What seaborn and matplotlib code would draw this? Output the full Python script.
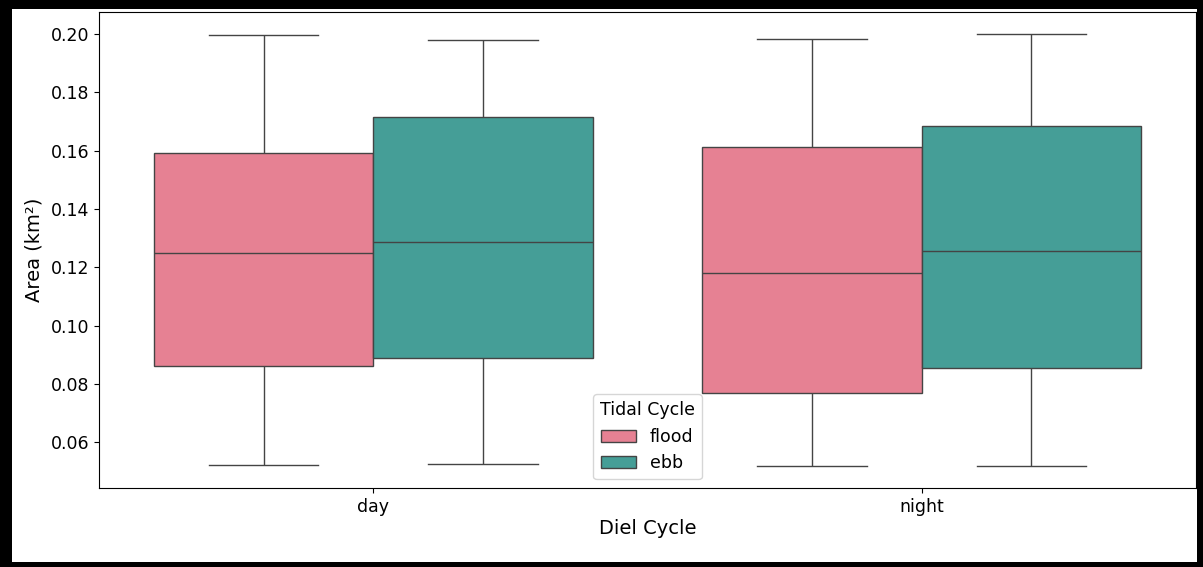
import numpy as np
import pandas as pd
import matplotlib
matplotlib.use("Agg")
import matplotlib.pyplot as plt
from matplotlib.patches import Rectangle
import seaborn as sns

# Five-number summaries (min, Q1, median, Q3, max) per group, area in km²
diel = ["day", "night"]
tidal = ["flood", "ebb"]
day_flood = [0.0522, 0.0862, 0.1250, 0.1591, 0.1997]
day_ebb = [0.0526, 0.0887, 0.1286, 0.1715, 0.1980]
night_flood = [0.0517, 0.0770, 0.1179, 0.1611, 0.1984]
night_ebb = [0.0517, 0.0853, 0.1256, 0.1685, 0.2001]

groups = {
    ("day", "flood"): day_flood,
    ("day", "ebb"): day_ebb,
    ("night", "flood"): night_flood,
    ("night", "ebb"): night_ebb,
}
rows = []
for (d, t), vals in groups.items():
    for v in vals:
        rows.append({"Diel Cycle": d, "Tidal Cycle": t, "Area": v})
df = pd.DataFrame(rows)

fig = plt.figure(figsize=(12.03, 5.67), dpi=100)
W, H = 1203, 567
ax = fig.add_axes([99 / W, 1 - 488 / H, (1196 - 99) / W, (488 - 12) / H])

sns.boxplot(data=df, x="Diel Cycle", y="Area", hue="Tidal Cycle",
            order=diel, hue_order=tidal, palette="husl", ax=ax)

ax.set_xlabel("Diel Cycle", fontsize=14, labelpad=2)
ax.set_ylabel("Area (km²)", fontsize=14, labelpad=5)
ax.tick_params(axis="both", labelsize=12.5)
ax.legend(title="Tidal Cycle", loc="lower center", fontsize=12.5,
          title_fontsize=12.5)

# Black frame around the figure
for x0, y0, w, h in [(0, 0, 12, H), (0, 0, W, 9), (0, 562, W, 5), (1197, 0, 6, H)]:
    fig.add_artist(Rectangle((x0 / W, 1 - (y0 + h) / H), w / W, h / H,
                             transform=fig.transFigure, facecolor="black",
                             edgecolor="none", zorder=10))

fig.savefig("out.png", dpi=100)
